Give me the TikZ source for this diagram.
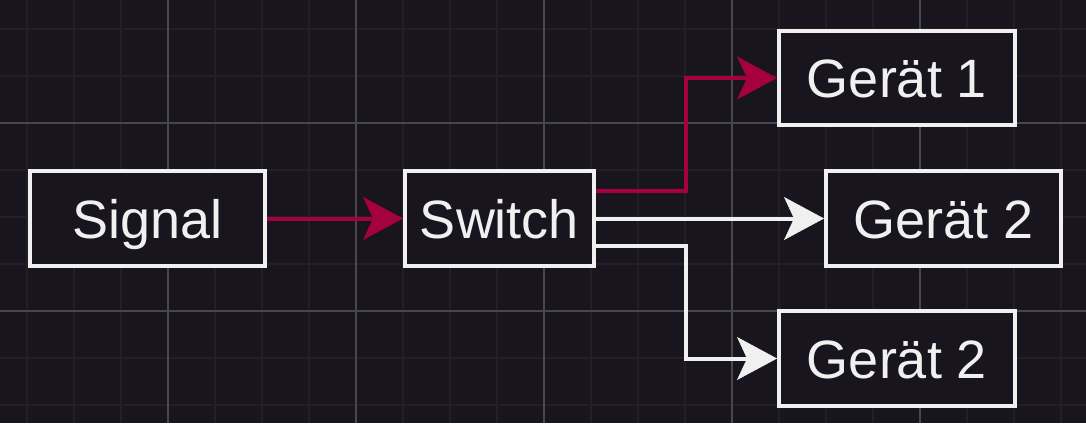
\documentclass[tikz,border=0pt]{standalone}
\usepackage{fontspec}
\setmainfont{Liberation Sans}
\usetikzlibrary{arrows.meta}
\definecolor{bgc}{RGB}{24,21,30}
\definecolor{minorc}{RGB}{34,31,39}
\definecolor{majorc}{RGB}{72,70,78}
\definecolor{fg}{RGB}{240,240,240}
\definecolor{redc}{RGB}{165,0,64}
\tikzset{
  box/.style={draw=fg, fill=bgc, line width=4pt, text=fg, inner sep=0pt,
    text height=39pt, text depth=0pt,
    font=\fontsize{54}{60}\selectfont},
  conn/.style={line width=4pt, -{Stealth[length=40pt,width=43pt,inset=10pt,line width=0.5pt]}},
}
\begin{document}
\begin{tikzpicture}[x=1pt,y=-1pt]
\useasboundingbox (0,0) rectangle (1086,423);
\fill[bgc] (0,0) rectangle (1086,423);
\foreach \i in {0,...,23} {\draw[minorc, line width=1.5pt] ({27+47*\i},0) -- ({27+47*\i},423);}
\foreach \j in {0,...,8} {\draw[minorc, line width=1.5pt] (0,{29+47*\j}) -- (1086,{29+47*\j});}
\foreach \i in {0,...,5} {\draw[majorc, line width=1.2pt] ({-20+188*\i},0) -- ({-20+188*\i},423);}
\foreach \j in {0,1} {\draw[majorc, line width=1.2pt] (0,{123+188*\j}) -- (1086,{123+188*\j});}

\node[box, minimum width=235pt, minimum height=95pt] (sig) at (147.5,218.5) {Signal};
\node[box, minimum width=189pt, minimum height=95pt] (sw) at (499.5,218.5) {Switch};
\node[box, minimum width=236pt, minimum height=94pt] (g1) at (897,78) {Gerät 1};
\node[box, minimum width=235pt, minimum height=95pt] (g2) at (943.5,218.5) {Gerät 2};
\node[box, minimum width=236pt, minimum height=95pt] (g3) at (897,358.5) {Gerät 2};
\coordinate (bx) at (686,0);

\draw[conn, redc] (sig) -- (sw);
\draw[conn, redc] ([yshift=28pt]sw.east) -- ([yshift=28pt]sw.east -| bx) |- (g1.west);
\draw[conn, fg] (sw) -- (g2);
\draw[conn, fg] ([yshift=-27pt]sw.east) -- ([yshift=-27pt]sw.east -| bx) |- (g3.west);
\end{tikzpicture}
\end{document}
